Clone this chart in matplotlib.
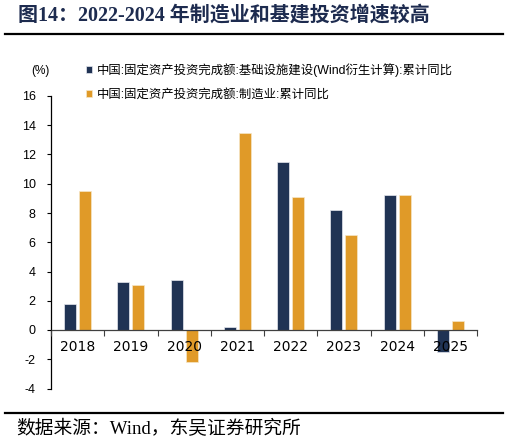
import matplotlib
matplotlib.use("Agg")
import matplotlib.pyplot as plt
import numpy as np
from matplotlib.lines import Line2D

years = ["2018", "2019", "2020", "2021", "2022", "2023", "2024", "2025"]
infra = [1.8, 3.3, 3.4, 0.2, 11.5, 8.2, 9.2, -1.5]
manuf = [9.5, 3.1, -2.2, 13.5, 9.1, 6.5, 9.2, 0.6]
yticks = [-4, -2, 0, 2, 4, 6, 8, 10, 12, 14, 16]
label_infra = "中国:固定资产投资完成额:基础设施建设(Wind衍生计算):累计同比"
label_manuf = "中国:固定资产投资完成额:制造业:累计同比"
title = "图14：2022-2024 年制造业和基建投资增速较高"
source = "数据来源：Wind，东吴证券研究所"

NAVY = "#203354"
ORANGE = "#E09A28"

W, H = 509, 444
fig = plt.figure(figsize=(W / 100, H / 100), dpi=100)
sans = ["Liberation Sans", "Noto Sans CJK SC"]
serif = ["Liberation Serif", "Noto Sans CJK SC"]

ax = fig.add_axes([51 / W, 1 - 388.5 / H, (477 - 51) / W, (388.5 - 96) / H])
x = np.arange(len(years))
bw = 0.225
ax.bar(x - 0.142, infra, bw, color=NAVY, edgecolor="#e6e8ee", linewidth=0.5,
       label=label_infra, zorder=1)
ax.bar(x + 0.142, manuf, bw, color=ORANGE, edgecolor="#f6e6c8", linewidth=0.5,
       label=label_manuf, zorder=1)
ax.set_axisbelow(False)

ax.set_xlim(-0.5, len(years) - 0.5)
ax.set_ylim(-4, 16)
ax.set_yticks(yticks)
ax.set_yticklabels([str(v) for v in yticks], fontsize=9, family=sans)
ax.tick_params(axis="y", direction="out", length=3, width=0.8, pad=8, colors="black")

ax.set_xticks(np.arange(len(years) + 1) - 0.5)
ax.set_xticklabels([""] * (len(years) + 1))
ax.set_xticks(x, minor=True)
ax.set_xticklabels(years, minor=True, fontsize=9, family=sans)
ax.tick_params(axis="x", which="major", direction="out", length=4, width=0.8, color="#404040")
ax.tick_params(axis="x", which="minor", length=0, pad=7)

for s in ["top", "right"]:
    ax.spines[s].set_visible(False)
ax.spines["bottom"].set_position(("data", 0))
ax.spines["bottom"].set_color("#404040")
ax.spines["bottom"].set_linewidth(0.9)
ax.spines["left"].set_linewidth(0.9)

leg = ax.legend(loc="upper left", bbox_to_anchor=(86 / W, 1 - 63 / H),
                bbox_transform=fig.transFigure, frameon=False,
                prop={"family": sans, "size": 8.9}, handlelength=0.5,
                handleheight=0.5, handletextpad=0.4, labelspacing=1.0,
                borderaxespad=0, borderpad=0)

fig.text(40 / W, 1 - 71 / H, "(%)", fontsize=8.5, family=sans, ha="center", va="center")

fig.text(18 / W, 1 - 16 / H, title, fontsize=14.4, fontweight="bold", family=serif,
         color="#1D2B4F", ha="left", va="center")
fig.add_artist(Line2D([5 / W, 503 / W], [1 - 34 / H, 1 - 34 / H], color="black",
                      linewidth=1.6, transform=fig.transFigure))
fig.add_artist(Line2D([5 / W, 503 / W], [1 - 412.5 / H, 1 - 412.5 / H], color="black",
                      linewidth=1.6, transform=fig.transFigure))
fig.text(16 / W, 1 - 429 / H, source, fontsize=13.5, family=serif, color="black",
         ha="left", va="center")

fig.savefig("out.png", dpi=100)
